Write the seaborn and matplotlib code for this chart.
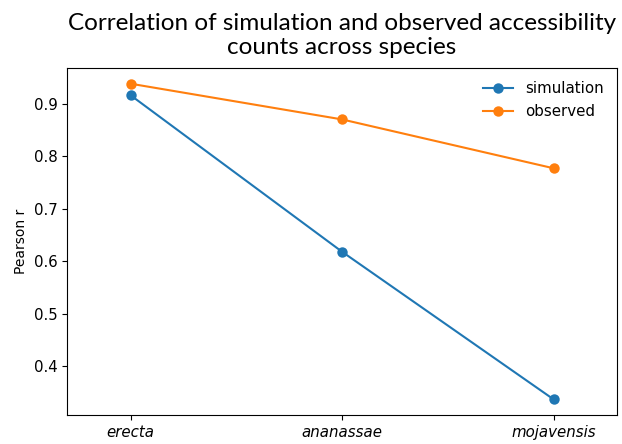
import matplotlib
matplotlib.use("Agg")
import matplotlib.pyplot as plt
import seaborn as sns
import pandas as pd
import numpy as np

# -------------------- Data --------------------
species = ["erecta", "ananassae", "mojavensis"]
simulation_r = [0.916, 0.618, 0.337]
observed_r = [0.938, 0.870, 0.777]

df = pd.DataFrame({
    "pos": list(range(len(species))) * 2,
    "r": simulation_r + observed_r,
    "source": ["simulation"] * len(species) + ["observed"] * len(species),
})

# -------------------- Plot --------------------
plt.style.use("default")
plt.rcParams["font.family"] = ["DejaVu Sans"]
fig, ax = plt.subplots(figsize=(6.22, 4.44), dpi=100)

sns.lineplot(
    data=df,
    x="pos",
    y="r",
    hue="source",
    palette=["#1f77b4", "#ff7f0e"],
    marker="o",
    markersize=7.5,
    markeredgewidth=0,
    linewidth=1.5,
    ax=ax,
)

ax.set_xticks(range(len(species)))
ax.set_xticklabels(species, fontstyle="italic", fontsize=10.8)
ax.tick_params(axis="y", labelsize=10.8)
ax.set_xlim(-0.3, len(species) - 1 + 0.3)
ax.set_xlabel("")
ax.set_ylabel("Pearson r", fontsize=10)
ax.legend(title=None, frameon=False, fontsize=10.8, loc="upper right")

ax.set_title("Correlation of simulation and observed accessibility\ncounts across species",
             fontsize=17.5, family="Lato", pad=10, linespacing=1.15)

fig.subplots_adjust(left=0.108, right=0.992, top=0.847, bottom=0.065)
fig.savefig("out.png", dpi=100)
